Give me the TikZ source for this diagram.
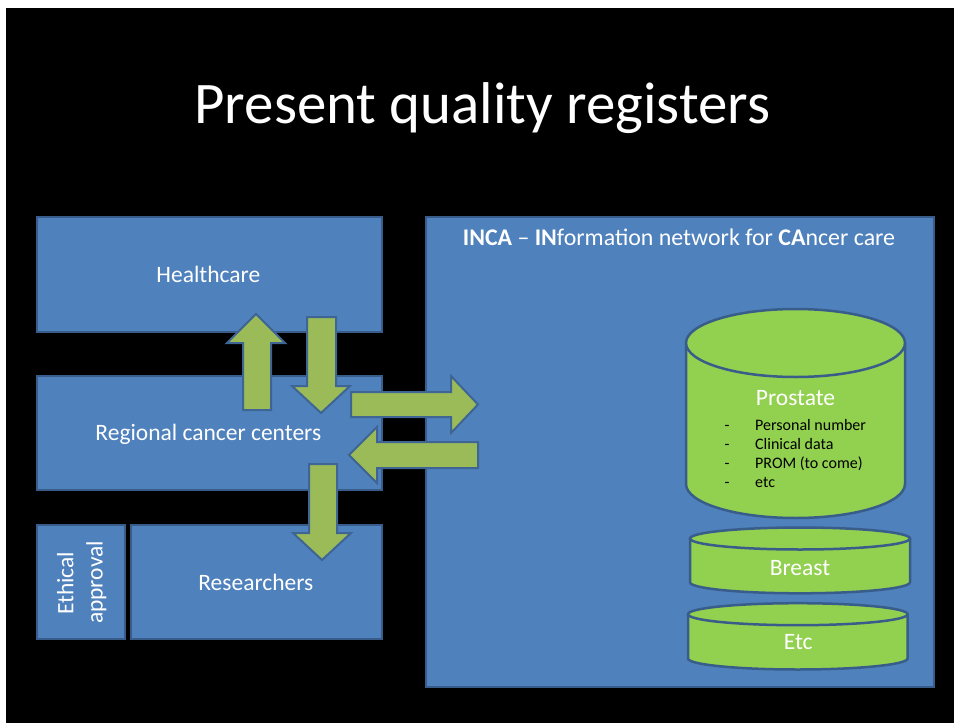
\documentclass[tikz,border=0pt]{standalone}
\usepackage{fontspec}
\setmainfont{Carlito}
\definecolor{boxblue}{HTML}{4F81BD}
\definecolor{boxline}{HTML}{385D8A}
\definecolor{arrgreen}{HTML}{9BBB59}
\definecolor{arrline}{HTML}{3E6593}
\definecolor{dbgreen}{HTML}{92D050}
\tikzset{
  box/.style={draw=boxline, fill=boxblue, line width=2pt, rectangle, inner sep=0pt, anchor=north west},
  blockarrow/.style={draw=arrline, fill=arrgreen, line width=2pt, line join=miter},
  db/.style={draw=boxline, fill=dbgreen, line width=2.5pt},
  wtxt/.style={text=white, inner sep=0pt, font=\fontsize{23.5}{28}\selectfont},
  btxt/.style={text=black, inner sep=0pt, font=\fontsize{16}{19}\selectfont, anchor=base west},
}
\newcommand\mycyl[5]{%
  \filldraw[db] ({#1-#4},#2) -- ({#1-#4},#3) arc[start angle=180,end angle=360,x radius=#4pt,y radius=#5pt] -- ({#1+#4},#2);
  \filldraw[db] (#1,#2) ellipse[x radius=#4pt,y radius=#5pt];
}
\begin{document}
\begin{tikzpicture}[x=1pt,y=-1pt]
\useasboundingbox (0,0) rectangle (954,723);
\fill[white] (0,0) rectangle (954,723);
\fill[black] (6,8) rectangle (954,723);

% title
\node[text=white, inner sep=0pt, anchor=base, font=\fontsize{58.9}{70}\selectfont] (title) at (482.4,123) {Present quality registers};

% boxes
\node[box, minimum width=345pt, minimum height=115pt] (hc) at (36,216) {};
\node[box, minimum width=345pt, minimum height=114pt] (rcc) at (36,375) {};
\node[box, minimum width=88pt, minimum height=114pt] (eth) at (36,524) {};
\node[box, minimum width=251pt, minimum height=114pt] (res) at (130,524) {};
\node[box, minimum width=508pt, minimum height=470pt] (inca) at (425,216) {};

% box labels
\node[wtxt, anchor=base] (hct) at (208.3,282.3) {Healthcare};
\node[wtxt, anchor=base] (rcct) at (208.3,440) {Regional cancer centers};
\node[wtxt, anchor=base] (rest) at (255.8,590) {Researchers};
\node[wtxt, anchor=base, rotate=90] (etha) at (73.3,583.3) {Ethical};
\node[wtxt, anchor=base, rotate=90] (ethb) at (102.7,582.5) {approval};
\node[wtxt, anchor=base, font=\fontsize{23.9}{28}\selectfont] (incat) at (679,245) {\textbf{INCA} – \textbf{IN}formation network for \textbf{CA}ncer care};

% databases
\mycyl{795.5}{343}{484}{109.5}{34}
\mycyl{800}{538.5}{582.3}{110}{11}
\mycyl{797.8}{614.2}{658.5}{109.8}{11}

\node[wtxt, anchor=base] (pro) at (795.5,405) {Prostate};
\node[wtxt, anchor=base] (bre) at (800,575) {Breast};
\node[wtxt, anchor=base] (etc) at (798.3,649.3) {Etc};

\node[btxt, anchor=base] (d1) at (727,430) {-};
\node[btxt, anchor=base] (d2) at (727,449.3) {-};
\node[btxt, anchor=base] (d3) at (727,468.6) {-};
\node[btxt, anchor=base] (d4) at (727,487.5) {-};
\node[btxt] (i1) at (755,430) {Personal number};
\node[btxt] (i2) at (755,449.3) {Clinical data};
\node[btxt] (i3) at (755,468.6) {PROM (to come)};
\node[btxt] (i4) at (755,487.5) {etc};

% block arrows
\draw[blockarrow] (256,314) -- (285,343) -- (271,343) -- (271,410) -- (243,410) -- (243,343) -- (227,343) -- cycle;
\draw[blockarrow] (321,413) -- (350,386) -- (336,386) -- (336,317) -- (307,317) -- (307,386) -- (292,386) -- cycle;
\draw[blockarrow] (478,404.5) -- (451,376) -- (451,392) -- (351,392) -- (351,417) -- (451,417) -- (451,433) -- cycle;
\draw[blockarrow] (349,455) -- (377,427) -- (377,442) -- (478,442) -- (478,468) -- (377,468) -- (377,483) -- cycle;
\draw[blockarrow] (322,560) -- (351,533) -- (337,533) -- (337,464) -- (309,464) -- (309,533) -- (293,533) -- cycle;
\end{tikzpicture}
\end{document}
